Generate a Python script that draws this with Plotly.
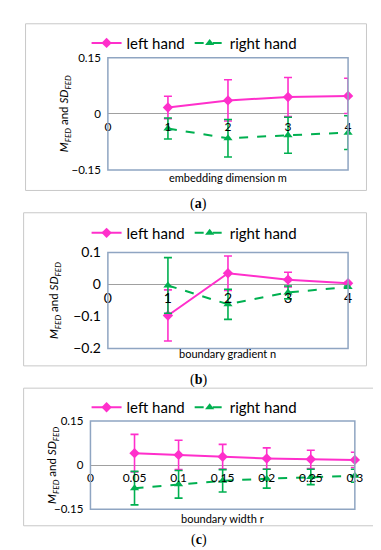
import plotly.graph_objects as go

W, H = 381, 550

# ---------------- data ----------------
m_vals = [1, 2, 3, 4]
m_left_mean = [0.017, 0.036, 0.045, 0.048]
m_left_sd = [0.030, 0.055, 0.052, 0.047]
m_right_mean = [-0.039, -0.065, -0.057, -0.050]
m_right_sd = [0.028, 0.050, 0.048, 0.045]

n_vals = [1, 2, 3, 4]
n_left_mean = [-0.097, 0.035, 0.015, 0.004]
n_left_sd = [0.080, 0.054, 0.023, 0.003]
n_right_mean = [-0.003, -0.062, -0.025, -0.008]
n_right_sd = [0.087, 0.047, 0.020, 0.003]

r_vals = [0.05, 0.10, 0.15, 0.20, 0.25, 0.30]
r_left_mean = [0.041, 0.035, 0.029, 0.023, 0.020, 0.018]
r_left_sd = [0.064, 0.050, 0.042, 0.036, 0.031, 0.026]
r_right_mean = [-0.078, -0.065, -0.053, -0.046, -0.040, -0.036]
r_right_sd = [0.057, 0.047, 0.038, 0.032, 0.026, 0.022]

x_ticks_m = [0, 1, 2, 3, 4]
x_ticks_n = [0, 1, 2, 3, 4]
x_ticks_r = [0, 0.05, 0.1, 0.15, 0.2, 0.25, 0.3]
y_ticks_a = [-0.15, 0, 0.15]
y_ticks_b = [-0.2, -0.1, 0, 0.1]
y_ticks_c = [-0.15, 0, 0.15]

x_titles = ["embedding dimension m", "boundary gradient n", "boundary width r"]
panel_labels = ["(<b>a</b>)", "(<b>b</b>)", "(<b>c</b>)"]
series_names = ["left hand", "right hand"]

PINK = "#FF2FCB"
GREEN = "#00B050"
FRAME = "#8FA5C2"
FONT = "Lato"

def px_x(p):
    return p / W

def px_y(p):
    return 1 - p / H

# panel geometry (pixels)
panels = [
    dict(x0=99, x1=347, y0=42, y1=158, yr=[-0.15, 0.15], xr=[0, 4],
         xs=m_vals, lm=m_left_mean, ls=m_left_sd, rm=m_right_mean, rs=m_right_sd,
         xt=x_ticks_m, yt=y_ticks_a, ytf=11.5, xtf=12,
         box=(14, 7, 366, 179), leg_y=27, ytit_x=55, xtit_y=166, lab_y=193),
    dict(x0=99, x1=347, y0=243, y1=342, yr=[-0.2, 0.1], xr=[0, 4],
         xs=n_vals, lm=n_left_mean, ls=n_left_sd, rm=n_right_mean, rs=n_right_sd,
         xt=x_ticks_n, yt=y_ticks_b, ytf=14, xtf=14,
         box=(12, 202, 366, 360), leg_y=223, ytit_x=44, xtit_y=347, lab_y=375),
    dict(x0=81, x1=354, y0=417, y1=508, yr=[-0.15, 0.15], xr=[0, 0.3],
         xs=r_vals, lm=r_left_mean, ls=r_left_sd, rm=r_right_mean, rs=r_right_sd,
         xt=x_ticks_r, yt=y_ticks_c, ytf=11.5, xtf=12,
         box=(12, 383, 374, 525), leg_y=403, ytit_x=42, xtit_y=517, lab_y=540),
]

fig = go.Figure()
layout = dict(width=W, height=H, margin=dict(l=0, r=0, t=0, b=0),
              paper_bgcolor="white", plot_bgcolor="white", showlegend=True,
              font=dict(family=FONT, color="black"))
shapes = []
annotations = []

for i, p in enumerate(panels):
    k = "" if i == 0 else str(i + 1)
    xa, ya = "x" + k, "y" + k
    leg = "legend" + k
    zero_frac = p["y1"] - (0 - p["yr"][0]) / (p["yr"][1] - p["yr"][0]) * (p["y1"] - p["y0"])
    fig.add_trace(go.Scatter(
        x=p["xs"], y=p["lm"], name=series_names[0], xaxis=xa, yaxis=ya, legend=leg,
        mode="lines+markers", line=dict(color=PINK, width=2),
        marker=dict(symbol="diamond", size=8, color=PINK),
        error_y=dict(type="data", array=p["ls"], color=PINK, thickness=1.6, width=4),
        cliponaxis=False))
    fig.add_trace(go.Scatter(
        x=p["xs"], y=p["rm"], name=series_names[1], xaxis=xa, yaxis=ya, legend=leg,
        mode="lines+markers", line=dict(color=GREEN, width=2, dash="dash"),
        marker=dict(symbol="triangle-up", size=8, color=GREEN),
        error_y=dict(type="data", array=p["rs"], color=GREEN, thickness=1.6, width=4),
        cliponaxis=False))
    layout["xaxis" + k] = dict(
        domain=[px_x(p["x0"]), px_x(p["x1"])], range=p["xr"], anchor="free",
        position=px_y(zero_frac), showline=False, showgrid=False, zeroline=False,
        ticks="", tickvals=p["xt"], tickfont=dict(size=p["xtf"], family=FONT),
        ticklabelstandoff=4)
    layout["yaxis" + k] = dict(
        domain=[px_y(p["y1"]), px_y(p["y0"])], range=p["yr"], anchor=xa,
        showline=False, showgrid=False, zeroline=True, zerolinecolor="#A0A0A0",
        zerolinewidth=1, ticks="", tickvals=p["yt"],
        tickfont=dict(size=p["ytf"], family=FONT), ticklabelstandoff=6)
    layout[leg] = dict(orientation="h", x=px_x(77), xanchor="left",
                       y=px_y(p["leg_y"]), yanchor="middle",
                       bgcolor="rgba(0,0,0,0)", font=dict(size=15, family=FONT),
                       itemwidth=30, tracegroupgap=0)
    bx0, by0, bx1, by1 = p["box"]
    shapes.append(dict(type="rect", xref="paper", yref="paper",
                       x0=px_x(bx0), x1=px_x(bx1), y0=px_y(by1), y1=px_y(by0),
                       line=dict(color="#C8C8C8", width=1), layer="below"))
    shapes.append(dict(type="rect", xref=xa + " domain", yref=ya + " domain",
                       x0=0, x1=1, y0=0, y1=1,
                       line=dict(color=FRAME, width=1.5), layer="above"))
    annotations.append(dict(text=x_titles[i], xref="paper", yref="paper",
                            x=px_x((p["x0"] + p["x1"]) / 2), y=px_y(p["xtit_y"]),
                            showarrow=False, font=dict(size=11, family=FONT),
                            xanchor="center", yanchor="middle"))
    annotations.append(dict(
        text="<i>M</i><sub><i>FED</i></sub> and <i>SD</i><sub><i>FED</i></sub>",
        xref="paper", yref="paper", x=px_x(p["ytit_x"]),
        y=px_y((p["y0"] + p["y1"]) / 2), textangle=-90, showarrow=False,
        font=dict(size=11.5, family=FONT), xanchor="center", yanchor="middle"))
    annotations.append(dict(text=panel_labels[i], xref="paper", yref="paper",
                            x=px_x(193), y=px_y(p["lab_y"]), showarrow=False,
                            font=dict(size=14, family="Liberation Serif"),
                            xanchor="center", yanchor="middle"))

layout["shapes"] = shapes
layout["annotations"] = annotations
fig.update_layout(**layout)
fig.write_html("out.html")
